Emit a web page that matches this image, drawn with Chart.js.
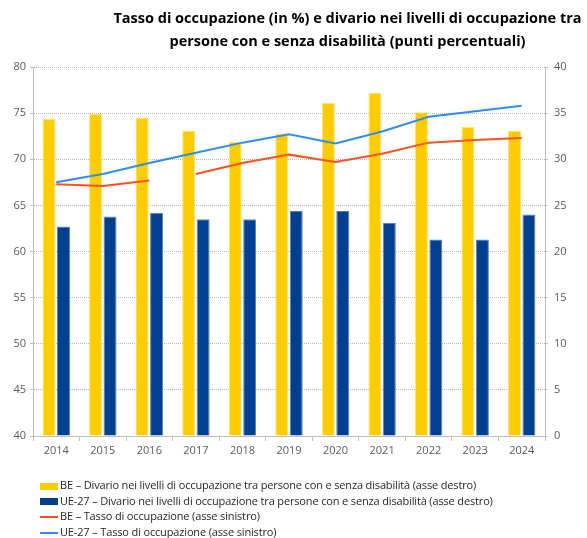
<!DOCTYPE html>
<html>
<head>
<meta charset="utf-8">
<script src="https://cdn.jsdelivr.net/npm/chart.js@4.4.1/dist/chart.umd.min.js"></script>
<style>
  body { margin: 0; background: #fff; font-family: "Open Sans", sans-serif; }
  #wrap { position: relative; width: 587px; height: 538px; }
  #chart { position: absolute; left: 0; top: 0; }
  #title {
    position: absolute; left: 108px; width: 479px; top: 6px;
    text-align: center; font-weight: bold; font-size: 14.5px; line-height: 23px; color: #000;
  }
  #legend { position: absolute; left: 40px; top: 477px; font-size: 11px; color: #262626; letter-spacing: -0.15px; }
  .item { height: 15.5px; line-height: 15.5px; white-space: nowrap; }
  .sw { display: inline-block; vertical-align: middle; width: 18px; margin-right: 2px; }
</style>
</head>
<body>
<div id="wrap">
  <canvas id="chart" width="587" height="538"></canvas>
  <div id="title">Tasso di occupazione (in %) e divario nei livelli di occupazione tra<br>persone con e senza disabilità (punti percentuali)</div>
  <div id="legend"></div>
</div>
<script>
// Chart data
const years = ["2014", "2015", "2016", "2017", "2018", "2019", "2020", "2021", "2022", "2023", "2024"];
const beGap = [34.4, 34.9, 34.5, 33.1, 31.9, 32.8, 36.1, 37.2, 35.1, 33.5, 33.1];
const euGap = [22.7, 23.8, 24.2, 23.5, 23.5, 24.4, 24.4, 23.1, 21.3, 21.3, 24.0];
const beRate = [67.3, 67.1, 67.7, 68.4, 69.6, 70.5, 69.7, 70.6, 71.8, 72.1, 72.3];
const euRate = [67.5, 68.4, 69.6, 70.7, 71.8, 72.7, 71.7, 73.0, 74.6, 75.2, 75.8];
const beBreakAfter = 2; // series break between 2016 and 2017

const labels = [
  "BE – Divario nei livelli di occupazione tra persone con e senza disabilità (asse destro)",
  "UE-27 – Divario nei livelli di occupazione tra persone con e senza disabilità (asse destro)",
  "BE – Tasso di occupazione (asse sinistro)",
  "UE-27 – Tasso di occupazione (asse sinistro)"
];
const colors = ["#FFCC00", "#00408F", "#FF5020", "#2F8CF0"];

const tickFont = { family: "Open Sans", size: 11 };
const tickColor = "#595959";

new Chart(document.getElementById("chart"), {
  type: "bar",
  data: {
    labels: years,
    datasets: [
      {
        label: labels[0], data: beGap, backgroundColor: colors[0], yAxisID: "y1", order: 1,
        borderColor: "#FFE27A", borderWidth: 1, categoryPercentage: 0.62, barPercentage: 0.9
      },
      {
        label: labels[1], data: euGap, backgroundColor: colors[1], yAxisID: "y1", order: 1,
        borderColor: "#5A7FB8", borderWidth: 1, categoryPercentage: 0.62, barPercentage: 0.9
      },
      {
        type: "line", label: labels[2], data: beRate, borderColor: colors[2], borderWidth: 2,
        pointRadius: 0, yAxisID: "y", order: 0, tension: 0,
        segment: {
          borderColor: (ctx) => ctx.p0DataIndex === beBreakAfter ? "rgba(0,0,0,0)" : undefined
        }
      },
      {
        type: "line", label: labels[3], data: euRate, borderColor: colors[3], borderWidth: 2,
        pointRadius: 0, yAxisID: "y", order: 0, tension: 0
      }
    ]
  },
  options: {
    responsive: false,
    animation: false,
    layout: { padding: { top: 67, left: 0, right: 0, bottom: 0 } },
    plugins: {
      legend: { display: false },
      title: { display: false },
      tooltip: { enabled: false }
    },
    scales: {
      x: {
        afterFit: (s) => { s.height = 102; },
        grid: { display: true, drawOnChartArea: false, drawTicks: true, tickLength: 5, offset: true, color: "#bfbfbf" },
        border: { display: true, color: "#bfbfbf" },
        ticks: { font: tickFont, color: tickColor, padding: 3 }
      },
      y: {
        position: "left", min: 40, max: 80,
        afterFit: (s) => { s.width = 33; },
        ticks: { stepSize: 5, font: tickFont, color: tickColor, padding: 4 },
        grid: { color: "#b8b8b8", tickLength: 3, tickColor: "#bfbfbf" },
        border: { display: true, color: "#bfbfbf", dash: [1, 1] }
      },
      y1: {
        position: "right", min: 0, max: 40,
        afterFit: (s) => { s.width = 42; },
        ticks: { stepSize: 5, font: tickFont, color: tickColor, padding: 6 },
        grid: { drawOnChartArea: false, tickLength: 3, color: "#bfbfbf" },
        border: { display: true, color: "#bfbfbf" }
      }
    }
  }
});

// HTML legend, one entry per row
const legendDiv = document.getElementById("legend");
labels.forEach((text, i) => {
  const row = document.createElement("div");
  row.className = "item";
  const isBar = i < 2;
  row.innerHTML = `<span class="sw" style="height:${isBar ? 7 : 2}px;background:${colors[i]}"></span>${text}`;
  legendDiv.appendChild(row);
});
</script>
</body>
</html>
